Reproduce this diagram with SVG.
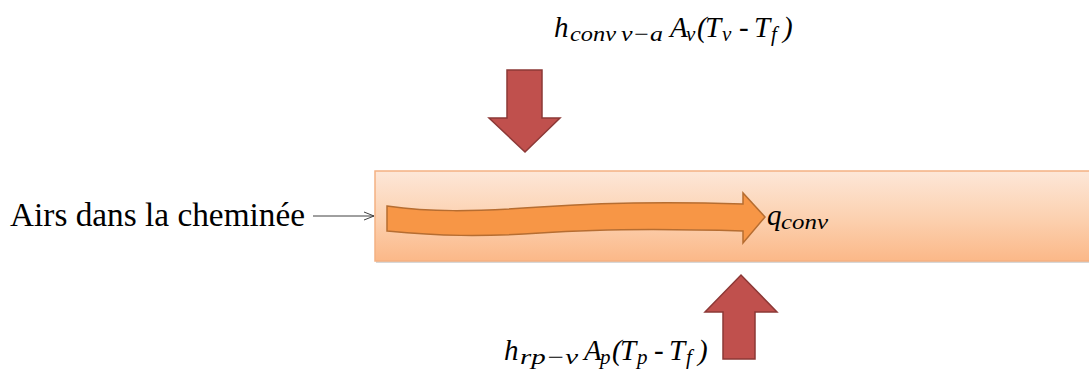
<svg xmlns="http://www.w3.org/2000/svg" width="1089" height="381" viewBox="0 0 1089 381">
<defs>
<linearGradient id="tube" x1="0" y1="0" x2="0" y2="1">
<stop offset="0" stop-color="#FDE7D8"/>
<stop offset="0.5" stop-color="#FCD2B2"/>
<stop offset="1" stop-color="#FBB888"/>
</linearGradient>
<marker id="ah" markerWidth="12" markerHeight="10" refX="11" refY="5" orient="auto" markerUnits="userSpaceOnUse">
<path d="M1,1 L11,5 L1,9" fill="none" stroke="#404040" stroke-width="1"/>
</marker>
<style>
text{font-family:"Liberation Serif","Times New Roman",serif;fill:#000}
.m{font-style:italic;font-size:29px}
.s{font-style:italic;font-size:21px}
.lbl{font-size:33px}
.red{fill:#C0504D;stroke:#8C3836;stroke-width:1.5}
</style>
</defs>
<g id="tube-node">
<rect x="376" y="174" width="720" height="89" fill="#BDBDBD" opacity="0.6"/>
<rect x="375" y="171" width="720" height="90" fill="url(#tube)" stroke="#F4B183" stroke-width="1.5"/>
</g>
<g id="flow-arrow">
<path d="M387,206 C430,212 470,212 540,207 C610,202 680,202 743,204 L743,193 L765,217 L743,243 L743,231 C680,229 610,228 540,233 C480,237 440,236 387,231 Z" fill="#F79646" stroke="#B66D31" stroke-width="1.5"/>
</g>
<g id="arrow-down">
<path class="red" d="M507,70 L542,70 L542,118 L560,118 L525,152 L489,118 L507,118 Z"/>
</g>
<g id="arrow-up">
<path class="red" d="M723,359 L755,359 L755,312 L777,312 L741,275 L705,312 L723,312 Z"/>
</g>
<g id="label-top">
<text class="m" x="554" y="37">h</text>
<text class="s" x="570" y="41" textLength="46" lengthAdjust="spacingAndGlyphs">conv</text>
<text class="s" x="621" y="41" textLength="42" lengthAdjust="spacingAndGlyphs">v−a</text>
<text class="m" x="670" y="37">A</text>
<text class="s" x="686" y="41">v</text>
<text class="m" x="697" y="37">(</text>
<text class="m" x="705" y="37">T</text>
<text class="s" x="722" y="41">v</text>
<text class="m" x="739" y="37">-</text>
<text class="m" x="754" y="37">T</text>
<text class="s" x="771" y="41">f</text>
<text class="m" x="783" y="37">)</text>
</g>
<g id="label-bottom">
<text class="m" x="504" y="360">h</text>
<text class="s" x="520" y="364" textLength="58" lengthAdjust="spacingAndGlyphs">rp−v</text>
<text class="m" x="584" y="360">A</text>
<text class="s" x="600" y="364">p</text>
<text class="m" x="612" y="360">(</text>
<text class="m" x="620" y="360">T</text>
<text class="s" x="637" y="364">p</text>
<text class="m" x="654" y="360">-</text>
<text class="m" x="669" y="360">T</text>
<text class="s" x="686" y="364">f</text>
<text class="m" x="698" y="360">)</text>
</g>
<g id="label-q">
<text class="m" x="767" y="225">q</text>
<text class="s" x="781" y="229" textLength="47" lengthAdjust="spacingAndGlyphs">conv</text>
</g>
<g id="label-air">
<text class="lbl" x="10" y="226" textLength="295" lengthAdjust="spacingAndGlyphs">Airs dans la cheminée</text>
</g>
<g id="connectors">
<line x1="313" y1="216" x2="374" y2="216" stroke="#404040" stroke-width="1" marker-end="url(#ah)"/>
</g>
</svg>
